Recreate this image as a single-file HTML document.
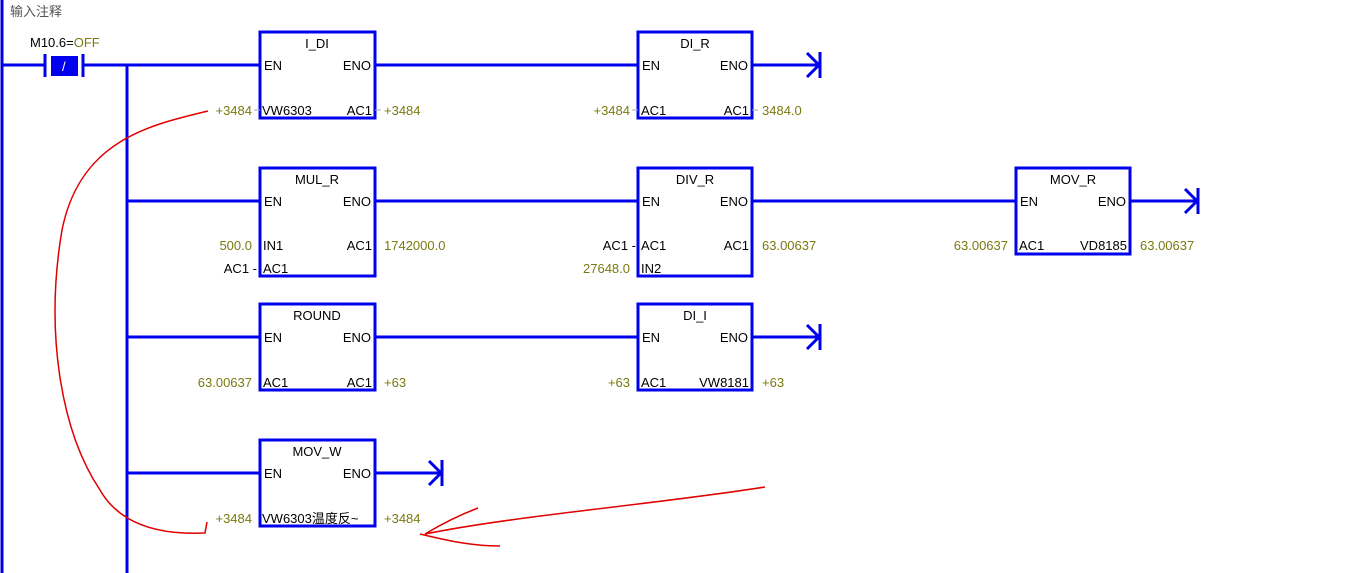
<!DOCTYPE html>
<html><head><meta charset="utf-8"><style>
html,body{margin:0;padding:0;background:#fff;width:1347px;height:573px;overflow:hidden}
svg text{font-family:"Liberation Sans","Noto Sans CJK SC",sans-serif;font-size:13px}
.k{fill:#000}.o{fill:#7a7a10}
</style></head><body>
<svg width="1347" height="573" viewBox="0 0 1347 573" xmlns="http://www.w3.org/2000/svg">
<line x1="2" y1="0" x2="2" y2="573" stroke="#0000e0" stroke-width="3"/>
<text x="10" y="16" fill="#555">输入注释</text>
<text x="30" y="47" class="k">M10.6=<tspan class="o">OFF</tspan></text>
<g stroke="#0000ee" stroke-width="3" fill="none">
<line x1="2" y1="65" x2="45" y2="65"/>
<line x1="45" y1="54" x2="45" y2="77"/>
<line x1="83" y1="54" x2="83" y2="77"/>
<line x1="83" y1="65" x2="260" y2="65"/>
<line x1="127" y1="65" x2="127" y2="573"/>
<line x1="375" y1="65" x2="638" y2="65"/>
<line x1="752" y1="65" x2="820" y2="65"/>
<polyline points="807,53 819,65 807,77"/><line x1="820" y1="52" x2="820" y2="78"/>
<line x1="127" y1="201" x2="260" y2="201"/>
<line x1="375" y1="201" x2="638" y2="201"/>
<line x1="752" y1="201" x2="1016" y2="201"/>
<line x1="1130" y1="201" x2="1198" y2="201"/>
<polyline points="1185,189 1197,201 1185,213"/><line x1="1198" y1="188" x2="1198" y2="214"/>
<line x1="127" y1="337" x2="260" y2="337"/>
<line x1="375" y1="337" x2="638" y2="337"/>
<line x1="752" y1="337" x2="820" y2="337"/>
<polyline points="807,325 819,337 807,349"/><line x1="820" y1="324" x2="820" y2="350"/>
<line x1="127" y1="473" x2="260" y2="473"/>
<line x1="375" y1="473" x2="442" y2="473"/>
<polyline points="429,461 441,473 429,485"/><line x1="442" y1="460" x2="442" y2="486"/>
<rect x="260" y="32" width="115" height="86"/>
<rect x="638" y="32" width="114" height="86"/>
<rect x="260" y="168" width="115" height="108"/>
<rect x="638" y="168" width="114" height="108"/>
<rect x="1016" y="168" width="114" height="86"/>
<rect x="260" y="304" width="115" height="86"/>
<rect x="638" y="304" width="114" height="86"/>
<rect x="260" y="440" width="115" height="86"/>
</g>
<rect x="51" y="56" width="27" height="20" fill="#0000ee"/>
<text x="62" y="71" fill="#fff">/</text>
<g stroke="#aaa" stroke-width="1">
<line x1="254" y1="110" x2="260" y2="110"/><line x1="375" y1="110" x2="381" y2="110"/>
<line x1="632" y1="110" x2="638" y2="110"/><line x1="752" y1="110" x2="758" y2="110"/>
</g>
<!-- texts -->
<g class="k">
<text x="317" y="48" text-anchor="middle">I_DI</text><text x="264" y="70">EN</text><text x="371" y="70" text-anchor="end">ENO</text>
<text x="262" y="115">VW6303</text><text x="372" y="115" text-anchor="end">AC1</text>
<text x="695" y="48" text-anchor="middle">DI_R</text><text x="642" y="70">EN</text><text x="748" y="70" text-anchor="end">ENO</text>
<text x="641" y="115">AC1</text><text x="749" y="115" text-anchor="end">AC1</text>
<text x="317" y="184" text-anchor="middle">MUL_R</text><text x="264" y="206">EN</text><text x="371" y="206" text-anchor="end">ENO</text>
<text x="263" y="250">IN1</text><text x="372" y="250" text-anchor="end">AC1</text><text x="263" y="273">AC1</text>
<text x="257" y="273" text-anchor="end">AC1 -</text>
<text x="695" y="184" text-anchor="middle">DIV_R</text><text x="642" y="206">EN</text><text x="748" y="206" text-anchor="end">ENO</text>
<text x="641" y="250">AC1</text><text x="749" y="250" text-anchor="end">AC1</text><text x="641" y="273">IN2</text>
<text x="636" y="250" text-anchor="end">AC1 -</text>
<text x="1073" y="184" text-anchor="middle">MOV_R</text><text x="1020" y="206">EN</text><text x="1126" y="206" text-anchor="end">ENO</text>
<text x="1019" y="250">AC1</text><text x="1127" y="250" text-anchor="end">VD8185</text>
<text x="317" y="320" text-anchor="middle">ROUND</text><text x="264" y="342">EN</text><text x="371" y="342" text-anchor="end">ENO</text>
<text x="263" y="387">AC1</text><text x="372" y="387" text-anchor="end">AC1</text>
<text x="695" y="320" text-anchor="middle">DI_I</text><text x="642" y="342">EN</text><text x="748" y="342" text-anchor="end">ENO</text>
<text x="641" y="387">AC1</text><text x="749" y="387" text-anchor="end">VW8181</text>
<text x="317" y="456" text-anchor="middle">MOV_W</text><text x="264" y="478">EN</text><text x="371" y="478" text-anchor="end">ENO</text>
<text x="262" y="523">VW6303温度反~</text>
</g>
<g class="o">
<text x="252" y="115" text-anchor="end">+3484</text><text x="384" y="115">+3484</text>
<text x="630" y="115" text-anchor="end">+3484</text><text x="762" y="115">3484.0</text>
<text x="252" y="250" text-anchor="end">500.0</text><text x="384" y="250">1742000.0</text>
<text x="630" y="273" text-anchor="end">27648.0</text><text x="762" y="250">63.00637</text>
<text x="1008" y="250" text-anchor="end">63.00637</text><text x="1140" y="250">63.00637</text>
<text x="252" y="387" text-anchor="end">63.00637</text><text x="384" y="387">+63</text>
<text x="630" y="387" text-anchor="end">+63</text><text x="762" y="387">+63</text>
<text x="252" y="523" text-anchor="end">+3484</text><text x="384" y="523">+3484</text>
</g>
<g stroke="#e00000" stroke-width="1.5" fill="none">
<path d="M208,111 C150,125 80,140 62,230 C45,330 60,430 100,490 C120,525 160,535 205,533 L207,522"/>
<path d="M765,487 C650,505 520,515 425,534"/>
<path d="M425,534 C445,522 462,514 478,508"/>
<path d="M420,534 C445,540 470,546 500,546"/>
</g>
</svg>
</body></html>
